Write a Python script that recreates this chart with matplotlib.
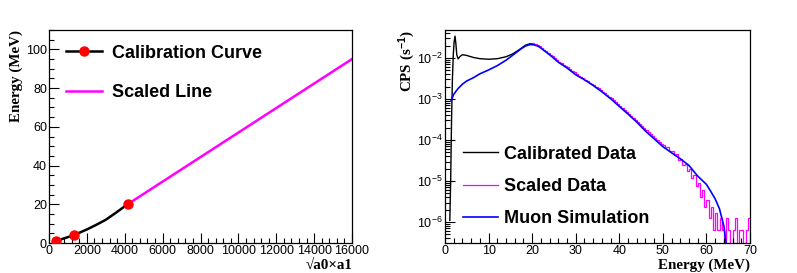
import numpy as np
import matplotlib
matplotlib.use('Agg')
import matplotlib.pyplot as plt
from matplotlib.ticker import MultipleLocator, LogLocator, LogFormatterSciNotation, NullFormatter

# === Left panel: calibration ===
calib_pts_x = [350, 1300, 4150]
calib_pts_y = [0.9, 4.0, 20.0]
curve_x = [350, 700, 1300, 2000, 2500, 3000, 3500, 4150]
curve_y = [0.9, 2.1, 4.0, 7.0, 9.4, 12.0, 15.4, 20.0]
scaled_x = [4150, 16000]
scaled_y = [20.0, 95.0]

# === Right panel: spectra ===
calib_E = [1.1, 1.3, 1.5, 1.7, 1.9, 2.1, 2.3, 2.5, 2.7, 3.0, 3.5, 4.0, 5.0, 6.5,
           8.0, 10.0, 12.0, 14.0, 15.5, 17.0, 18.5, 19.5, 20.0]
calib_cps = [1.1e-6, 1e-5, 3e-4, 3e-3, 1.2e-2, 2.5e-2, 3.4e-2, 2.2e-2, 1.2e-2, 9.5e-3,
             1.1e-2, 1.2e-2, 1.15e-2, 1.03e-2, 9.6e-3, 9.3e-3, 9.6e-3, 1.07e-2,
             1.25e-2, 1.58e-2, 2.05e-2, 2.22e-2, 2.2e-2]

sim_E = [1.38, 2, 3, 4, 5, 6.5, 8, 10, 12, 14, 16, 17.5, 18.5, 19.5, 20.5, 21.5, 22,
         24, 26, 28, 30, 32, 34, 36, 38, 40, 42, 44, 46, 48, 50, 52, 54, 56, 58, 60,
         61, 62, 63, 64, 64.5]
sim_cps = [9e-4, 1.3e-3, 1.8e-3, 2.3e-3, 2.75e-3, 3.3e-3, 4.1e-3, 5.1e-3, 6.5e-3,
           8.8e-3, 1.27e-2, 1.68e-2, 1.96e-2, 2.12e-2, 2.08e-2, 1.9e-2, 1.74e-2,
           1.2e-2, 7.9e-3, 5.7e-3, 3.9e-3, 2.95e-3, 2.14e-3, 1.5e-3, 1.02e-3, 6.6e-4,
           4.3e-4, 2.75e-4, 1.66e-4, 1.07e-4, 6.9e-5, 4.9e-5, 3.5e-5, 2.4e-5, 1.32e-5,
           8.3e-6, 5.6e-6, 3.7e-6, 2.1e-6, 8e-7, 3.2e-7]

# scaled data histogram, 0.5 MeV bins from 20 to 70, log10(CPS); -8 = empty bin
scaled_lo, scaled_hi, scaled_bw = 20.0, 70.0, 0.5
scaled_log10 = [
    -1.64, -1.66, -1.68, -1.71, -1.76, -1.80, -1.84, -1.88, -1.92, -1.96,
    -2.00, -2.04, -2.09, -2.12, -2.16, -2.19, -2.23, -2.27, -2.31, -2.34,
    -2.40, -2.43, -2.46, -2.49, -2.53, -2.56, -2.60, -2.63, -2.67, -2.70,
    -2.74, -2.78, -2.82, -2.86, -2.90, -2.94, -2.98, -3.03, -3.08, -3.12,
    -3.18, -3.23, -3.28, -3.32, -3.37, -3.42, -3.46, -3.52, -3.56, -3.61,
    -3.66, -3.71, -3.76, -3.80, -3.85, -3.90, -3.94, -4.00, -4.04, -4.09,
    -4.12, -4.18, -4.17, -4.27, -4.26, -4.37, -4.35, -4.49, -4.47, -4.60,
    -4.58, -4.76, -4.70, -4.93, -4.85, -5.12, -5.05, -5.38, -5.22, -5.62,
    -5.45, -5.90, -5.62, -6.18, -5.78, -6.18, -5.90, -6.18, -8.00, -5.90,
    -6.18, -8.00, -6.18, -5.90, -8.00, -6.18, -6.18, -8.00, -6.18, -5.90,
]

SANS = 'Liberation Sans'
SERIF = 'Liberation Serif'
plt.rcParams['font.family'] = SANS
plt.rcParams['mathtext.fontset'] = 'custom'
plt.rcParams['mathtext.rm'] = SANS
plt.rcParams['mathtext.it'] = SANS + ':italic'
plt.rcParams['mathtext.bf'] = SANS + ':bold'

fig = plt.figure(figsize=(7.97, 2.73), dpi=100)
ax1 = fig.add_axes([49/797, 1 - 243/273, 303/797, 213/273])
ax2 = fig.add_axes([445/797, 1 - 243/273, 305/797, 213/273])


def root_style(ax):
    ax.tick_params(which='both', direction='in', top=False, right=False,
                   labelsize=9, pad=1.5, width=0.8)
    ax.tick_params(which='major', length=7)
    ax.tick_params(which='minor', length=3.5)
    for s in ax.spines.values():
        s.set_linewidth(0.9)


LABEL_KW = dict(family=SERIF, weight='bold', fontsize=10.8)

# --- left ---
ax1.plot(scaled_x, scaled_y, color='#ff00ff', lw=1.8, label='Scaled Line', zorder=2)
ax1.plot(curve_x, curve_y, color='black', lw=1.8, marker='o', ms=6.5,
         mfc='red', mec='red', markevery=[0, 2, 7], label='Calibration Curve', zorder=3)
ax1.set_xlim(0, 16000)
ax1.set_ylim(0, 110)
ax1.xaxis.set_major_locator(MultipleLocator(2000))
ax1.xaxis.set_minor_locator(MultipleLocator(400))
ax1.yaxis.set_major_locator(MultipleLocator(20))
ax1.yaxis.set_minor_locator(MultipleLocator(5))
root_style(ax1)
ax1.set_ylabel('Energy (MeV)', loc='top', labelpad=2, **LABEL_KW)
ax1.set_xlabel('\u221aa0\u00d7a1', loc='right', labelpad=1, **LABEL_KW)
h, l = ax1.get_legend_handles_labels()
ax1.legend(h[::-1], l[::-1], loc='upper left', bbox_to_anchor=(0.004, 1.008), frameon=False,
           prop={'family': SANS, 'weight': 'bold', 'size': 13}, handlelength=1.95,
           handletextpad=0.55, labelspacing=1.27)

# --- right ---
ax2.plot(calib_E, calib_cps, color='black', lw=1.0, label='Calibrated Data')
edges = np.arange(scaled_lo, scaled_hi + scaled_bw / 2, scaled_bw)
ax2.stairs(10.0 ** np.array(scaled_log10), edges, color='#ff00ff', lw=0.9,
           baseline=None, label='Scaled Data')
ax2.plot(sim_E, sim_cps, color='#0000ff', lw=1.2, label='Muon Simulation')
ax2.set_yscale('log')
ax2.set_xlim(0, 70)
ax2.set_ylim(3.1e-7, 4.8e-2)
ax2.xaxis.set_major_locator(MultipleLocator(10))
ax2.xaxis.set_minor_locator(MultipleLocator(2))
ax2.yaxis.set_major_locator(LogLocator(base=10, numticks=12))
ax2.yaxis.set_major_formatter(LogFormatterSciNotation())
ax2.yaxis.set_minor_locator(LogLocator(base=10, subs=np.arange(2, 10), numticks=12))
ax2.yaxis.set_minor_formatter(NullFormatter())
root_style(ax2)
ax2.set_ylabel(r'CPS (s$^{\mathbf{-1}}$)', loc='top', labelpad=0, **LABEL_KW)
ax2.set_xlabel('Energy (MeV)', loc='right', labelpad=1, **LABEL_KW)
ax2.legend(loc='lower left', bbox_to_anchor=(0.007, -0.003), frameon=False,
           prop={'family': SANS, 'weight': 'bold', 'size': 13}, handlelength=1.9,
           handletextpad=0.35, labelspacing=0.85)

fig.savefig('out.png', dpi=100)
